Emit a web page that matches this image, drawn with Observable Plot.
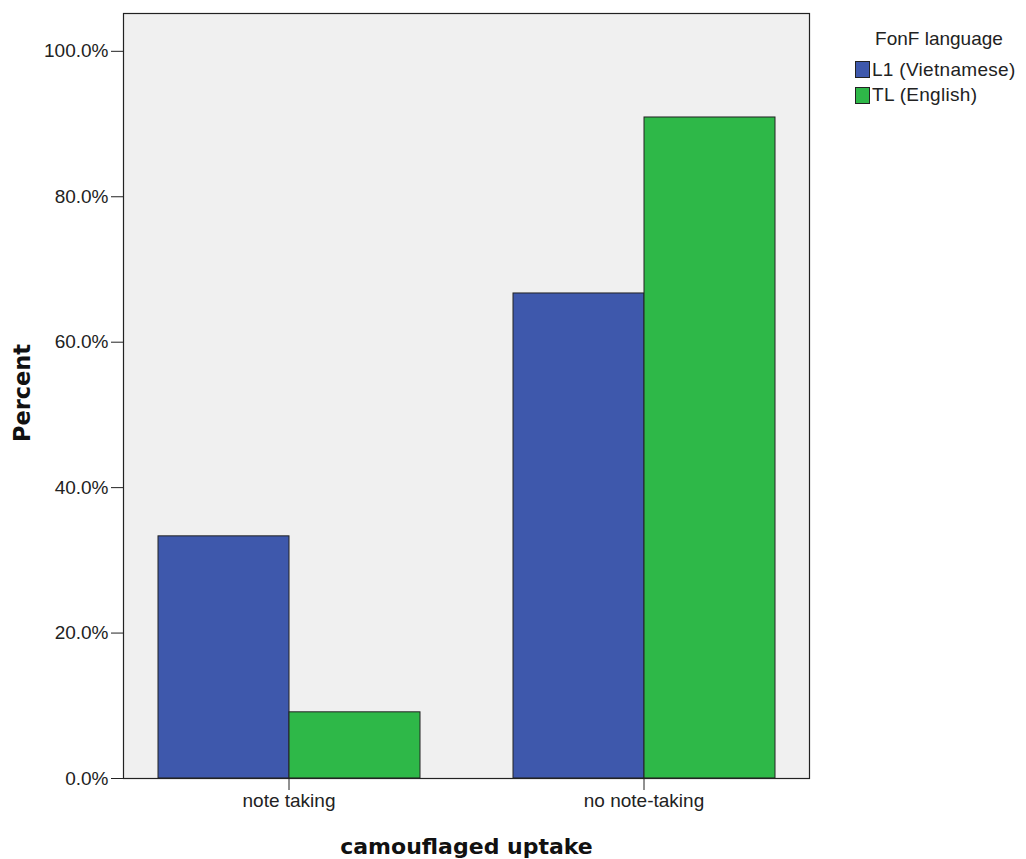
<!DOCTYPE html>
<html>
<head>
<meta charset="utf-8">
<script src="https://cdn.jsdelivr.net/npm/d3@7"></script>
<script src="https://cdn.jsdelivr.net/npm/@observablehq/plot@0.6"></script>
<style>
  html, body { margin: 0; padding: 0; background: #fff; }
  #wrap { position: relative; width: 1026px; height: 859px; }
  #wrap svg g[aria-label="fx-axis label"] text {
    font-family: "DejaVu Sans", Verdana, sans-serif;
    font-weight: bold;
    font-size: 22px;
    fill: #111;
  }
  #legend {
    position: absolute; left: 855px; top: 28px;
    font-family: "Liberation Sans", Arial, sans-serif; font-size: 19px; color: #222;
  }
  #legend .title { width: 168px; text-align: center; line-height: 22px; height: 22px; margin-bottom: 7px; }
  #legend .item { display: flex; align-items: center; height: 25.5px; letter-spacing: 0.3px; }
  #legend .sw { width: 15px; height: 17px; border: 1px solid #222; margin-right: 2px; box-sizing: border-box; }
</style>
</head>
<body>
<div id="wrap"></div>
<script>
const categories = ["note taking", "no note-taking"];
const languages = ["L1 (Vietnamese)", "TL (English)"];
const l1Values = [33.3, 66.7];
const tlValues = [9.1, 90.9];
const colors = ["#3e58ac", "#2eb848"];
const yTicks = [0, 20, 40, 60, 80, 100];
const yTitle = "Percent";
const xTitle = "camouflaged uptake";
const legendTitle = "FonF language";

const data = categories.flatMap((c, i) => [
  {category: c, language: languages[0], value: l1Values[i]},
  {category: c, language: languages[1], value: tlValues[i]}
]);

const chart = Plot.plot({
  width: 1026,
  height: 859,
  marginLeft: 123,
  marginRight: 216,
  marginTop: 13,
  marginBottom: 81,
  style: {fontFamily: "'Liberation Sans', Arial, sans-serif", fontSize: "19px", color: "#222", background: "transparent"},
  fx: {domain: categories, paddingInner: 0.0673, paddingOuter: 0, label: null},
  x: {domain: languages, paddingInner: 0, paddingOuter: 0.261, axis: null},
  y: {domain: [0, 105.2]},
  color: {domain: languages, range: colors},
  marks: [
    Plot.frame({facet: "super", fill: "#f0f0f0"}),
    Plot.barY(data, {fx: "category", x: "language", y: "value", fill: "language", stroke: "#222", strokeWidth: 1}),
    Plot.frame({facet: "super", stroke: "#222", strokeWidth: 1.2}),
    Plot.axisY({ticks: yTicks, tickFormat: d => d.toFixed(1) + "%", tickSize: 12, tickPadding: 3, label: null}),
    Plot.text([yTitle], {facet: "super", frameAnchor: "left", textAnchor: "middle", rotate: -90, dx: -100.5, dy: -3,
      text: d => d, fontFamily: "DejaVu Sans, Verdana, sans-serif", fontWeight: "bold", fontSize: 22.5, fill: "#111"}),
    Plot.axisFx({anchor: "bottom", tickSize: 12, tickPadding: 3, label: xTitle, labelAnchor: "center",
      labelArrow: "none", labelOffset: 75})
  ]
});
const wrap = document.getElementById("wrap");
wrap.appendChild(chart);

const legend = document.createElement("div");
legend.id = "legend";
const t = document.createElement("div");
t.className = "title";
t.textContent = legendTitle;
legend.appendChild(t);
languages.forEach((l, i) => {
  const it = document.createElement("div");
  it.className = "item";
  const sw = document.createElement("div");
  sw.className = "sw";
  sw.style.background = colors[i];
  const tx = document.createElement("span");
  tx.textContent = l;
  it.appendChild(sw);
  it.appendChild(tx);
  legend.appendChild(it);
});
wrap.appendChild(legend);
</script>
</body>
</html>
